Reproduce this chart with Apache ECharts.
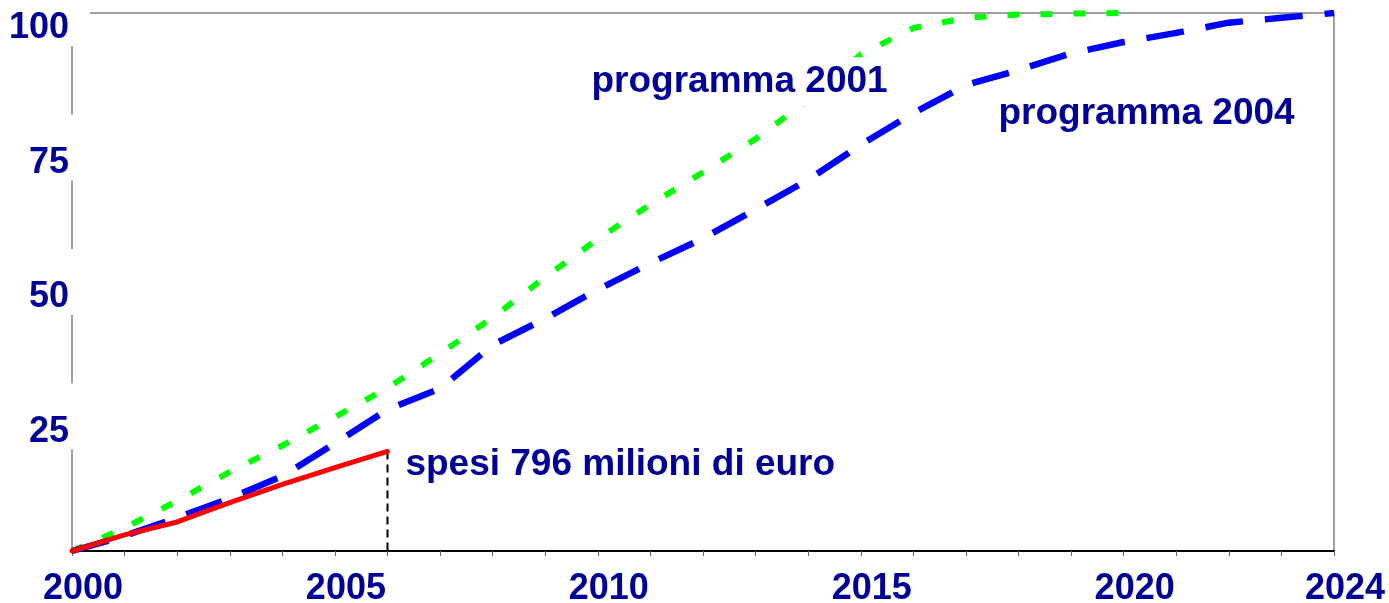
<!DOCTYPE html>
<html><head><meta charset="utf-8">
<script src="https://cdn.jsdelivr.net/npm/echarts@6/dist/echarts.min.js"></script>
<style>html,body{margin:0;padding:0;background:#fff}#c{width:1389px;height:603px}</style>
</head><body><div id="c"></div>
<script>
// ---- data ----
const years = [2000,2001,2002,2003,2004,2005,2006,2007,2008,2009,2010,2011,2012,2013,2014,2015,2016,2017,2018,2019,2020,2021,2022,2023,2024];
const xTickLabels = [2000,2005,2010,2015,2020,2024];
const yTickLabels = [25,50,75,100];
// programma 2001 (green dotted), 2000-2020
const programma2001 = [0,4.3,9.3,14.7,19.6,24.9,30.3,36.7,43.4,50.9,58.0,64.4,70.4,76.6,83.8,92.3,97.2,99.1,99.7,99.9,100];
// programma 2004 (blue dashed), 2000-2024
const programma2004 = [0,2.8,6.2,9.8,13.9,20.0,26.3,30.2,38.3,43.2,48.6,53.5,58.1,63.5,69.0,75.5,81.4,86.6,89.4,92.5,94.6,96.3,98.2,99.1,100];
// spesi (red solid), 2000-2006
const spesi = [0,3.0,5.4,9.0,12.4,15.5,18.5];
// annotations: [text, year, value]
const annotations = [
  ['programma 2001', 2009.88, 87.2],
  ['programma 2004', 2017.62, 81.2],
  ['spesi 796 milioni di euro', 2006.34, 16.0]
];

const FONT = '"Liberation Sans", Arial, sans-serif';
const NAVY = '#000099';
const pairs = (arr) => arr.map((v, i) => [years[i], v]);
const lastIdx = spesi.length - 1;

const chart = echarts.init(document.getElementById('c'), null, {renderer: 'canvas'});
chart.setOption({
  animation: false,
  backgroundColor: '#fff',
  grid: {left: 72, right: 55, top: 13, bottom: 52, containLabel: false, outerBoundsMode: 'none'},
  xAxis: [{
    type: 'value', min: 2000, max: 2024, interval: 1,
    axisLine: {lineStyle: {color: '#000', width: 2}},
    axisTick: {length: 5, lineStyle: {color: '#666', width: 1}},
    splitLine: {show: false},
    axisLabel: {
      formatter: v => xTickLabels.includes(v) ? String(v) : '',
      color: NAVY, fontSize: 36, fontWeight: 'bold', fontFamily: FONT,
      margin: 20, lineHeight: 36, padding: [0, 0, 0, 22],
      showMinLabel: true, showMaxLabel: true
    }
  }, {
    type: 'value', position: 'top', min: 2000, max: 2024, interval: 1,
    axisLine: {show: true, onZero: false, lineStyle: {color: '#808080', width: 1.5}},
    axisTick: {show: false}, axisLabel: {show: false}, splitLine: {show: false}
  }],
  yAxis: [{
    type: 'value', min: 0, max: 100, interval: 25, z: 3,
    axisLine: {show: true, onZero: false, lineStyle: {color: '#808080', width: 1.5}},
    axisTick: {show: false}, splitLine: {show: false},
    axisLabel: {
      showMinLabel: false,
      formatter: v => yTickLabels.includes(v) ? '\n' + v : '',
      color: NAVY, fontSize: 36, fontWeight: 'bold', fontFamily: FONT,
      align: 'right', verticalAlign: 'middle', lineHeight: 31,
      padding: [2, 21, 2, 6], backgroundColor: '#fff', margin: -18
    }
  }, {
    type: 'value', position: 'right', min: 0, max: 100, interval: 25,
    axisLine: {show: true, onZero: false, lineStyle: {color: '#808080', width: 1.5}},
    axisTick: {show: false}, axisLabel: {show: false}, splitLine: {show: false}
  }],
  series: [
    {
      name: 'programma 2001', type: 'line', data: pairs(programma2001),
      symbol: 'none', lineStyle: {color: '#00ff00', width: 6, type: [12, 21], cap: 'butt'}
    },
    {
      name: 'programma 2004', type: 'line', data: pairs(programma2004),
      symbol: 'none', lineStyle: {color: '#0000ff', width: 6.5, type: [38, 22], cap: 'butt'}
    },
    {
      name: 'guide', type: 'line', data: [[years[lastIdx], spesi[lastIdx]], [years[lastIdx], 0]],
      symbol: 'none', lineStyle: {color: '#000', width: 2, type: [8, 5]}
    },
    {
      name: 'spesi', type: 'line', data: pairs(spesi),
      symbol: 'none', lineStyle: {color: '#ff0000', width: 5, cap: 'round', join: 'round'}
    }
  ]
});

const graphics = annotations.map(([text, yr, val]) => {
  const p = chart.convertToPixel({gridIndex: 0}, [yr, val]);
  return {
    type: 'text', x: p[0] - 6, y: p[1], z: 100,
    style: {
      text: text, font: 'bold 37px ' + FONT, fill: NAVY,
      verticalAlign: 'middle', align: 'left',
      backgroundColor: '#fff', padding: [6, 6]
    }
  };
});
chart.setOption({graphic: graphics});
</script>
</body></html>
